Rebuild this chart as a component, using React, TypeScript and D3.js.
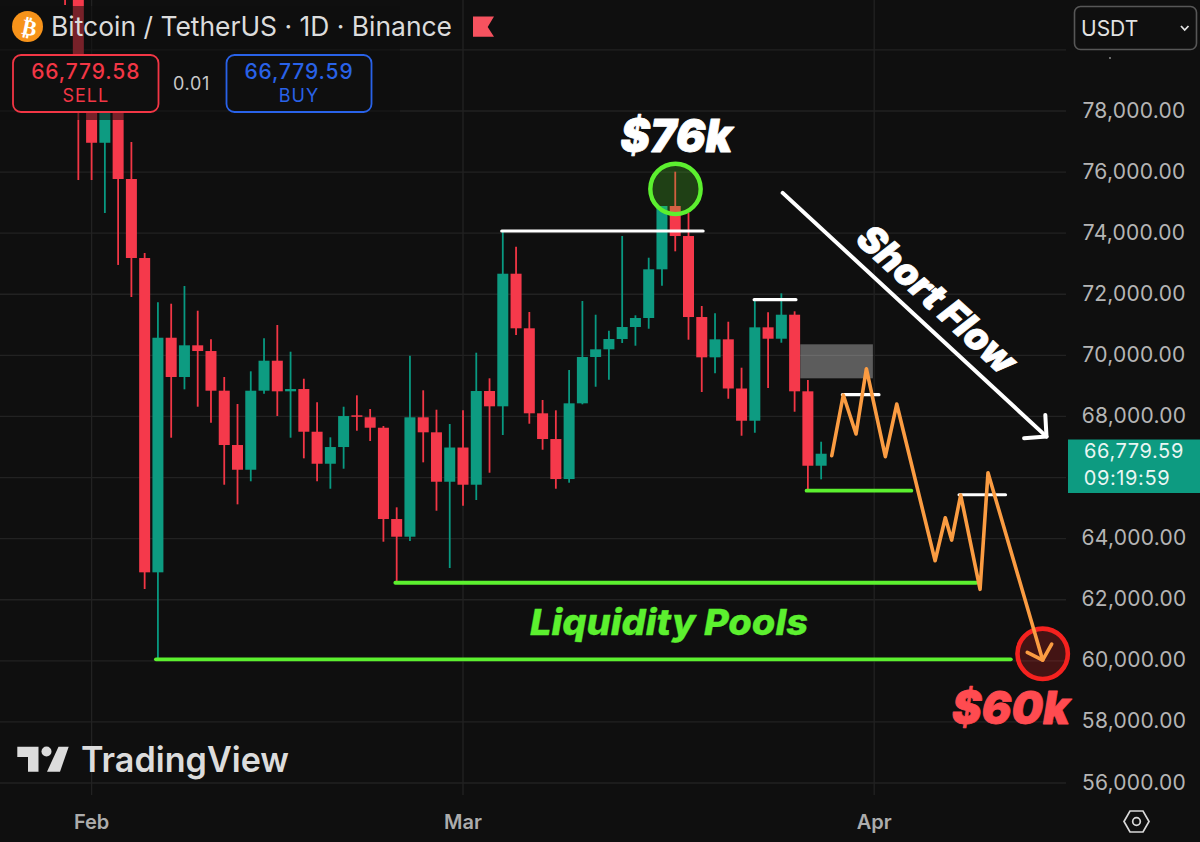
import React, { useEffect, useRef } from "react";
import * as d3 from "d3";

const W = 1200, H = 842;
const PLOT_R = 1066, PLOT_B = 795;

const days = [-2,-1,0,1,2,3,4,5,6,7,8,9,10,11,12,13,14,15,16,17,18,19,20,21,22,23,24,25,26,27,28,29,30,31,32,33,34,35,36,37,38,39,40,41,42,43,44,45,46,47,48,49,50,51,52,53,54,55];
const opens = [84000,83000,78360,76960,78360,75774,73187,62897,70577,69291,70329,70142,68843,67065,66256,68843,69825,68823,68898,67500,66452,66999,68037,67972,67631,64642,64063,67972,67481,65863,66983,65765,68833,68332,72673,70886,68103,67261,65951,68430,69946,70198,70535,70928,71223,72817,74890,73907,71255,69936,70525,68915,67860,70918,70545,71331,68823,66387];
const highs = [85000,84000,78800,79000,78900,76985,73350,71737,71691,72270,71462,70525,69291,68407,69478,70558,70994,70120,69235,68462,67317,68319,68692,68243,67687,65025,69988,68856,68221,67753,68201,70087,69249,74071,73557,71419,68538,68201,69520,71779,71331,70807,73907,71311,73197,74890,76013,74660,71616,71377,71101,69596,71822,71409,72031,71442,69193,67173];
const lows = [81470,75740,75740,74660,72960,71910,62350,60060,67304,68888,68319,67795,65765,65123,65877,68745,68014,67304,66629,65877,65634,66289,67533,67196,63899,62556,63922,66498,64914,63038,65077,65264,66158,67392,70666,67762,66911,65634,65831,68397,68973,69203,70404,70316,70872,72280,73406,70512,68800,69412,68580,67369,67467,68931,70414,68155,65591,65942];
const closes = [82500,78360,76960,78360,75774,73187,62897,70577,69291,70329,70142,68843,67065,66256,68843,69825,68823,68898,67500,66452,66999,68014,68004,67631,64642,64063,67972,67481,65863,66983,65765,68833,68332,72673,70886,68103,67261,65951,68430,69946,70198,70535,70928,71223,72817,74890,73907,71255,69936,70525,68915,67860,70918,70545,71331,68823,66387,66780];

const priceTicks = [56000,58000,60000,62000,64000,66000,68000,70000,72000,74000,76000,78000,80000];
const labelledTicks = [56000,58000,60000,62000,64000,68000,70000,72000,74000,76000,78000];
const monthTicks: [string, number][] = [["Feb",0],["Mar",28],["Apr",59]];
const lastPrice = "66,779.59";
const countdown = "09:19:59";

const forecastDays = [55.8,56.67,57.63,58.41,59.84,60.7,63.59,64.36,64.84,65.52,66.98,67.58,71.7];
const forecastPrices = [66714,68702,67425,69563,66682,68407,63277,64684,63954,65428,62340,66158,60026];
const forecastHeadDays = [70.54,71.7,72.38];
const forecastHeadPrices = [60278,60026,60549];

const whiteLevels: [number,number,number][] = [[30.92,46.1,74071],[49.95,53.1,71822],[56.6,59.36,68712],[65.4,68.9,65437]];
const greenLevels: [number,number,number][] = [[53.9,61.8,65569],[22.9,66.7,62556],[4.85,69.3,60049]];
const zone = { d0: 53.43, d1: 58.9, p0: 70362, p1: 69248 };
const flowDays = [52.1,71.99];
const flowPrices = [75320,67340];
const flowHeadDays = [70.3,71.99,71.9];
const flowHeadPrices = [67290,67340,68050];

const UP = "#089981", DOWN = "#f23645";
const UP_F = "#0d9b81", DOWN_F = "#f5394b";
const SANS = "Inter, 'Noto Sans', sans-serif";
const HEAVY = "Inter, 'Liberation Sans', Arial, sans-serif";

export default function App() {
  const ref = useRef<SVGSVGElement>(null);
  useEffect(() => {
    const svg = d3.select(ref.current!);
    svg.selectAll("*").remove();
    const x = d3.scaleLinear().domain([0, 59]).range([91.6, 874.2]);
    const y = d3.scaleLinear().domain([56000, 78000]).range([783, 111]);

    svg.append("rect").attr("width", W).attr("height", H).attr("fill", "#0f0f0f");

    const grid = svg.append("g").attr("stroke", "#222222").attr("stroke-width", 1.3);
    priceTicks.forEach(p => grid.append("line").attr("x1", 0).attr("x2", PLOT_R).attr("y1", y(p)).attr("y2", y(p)));
    monthTicks.forEach(([, d]) => grid.append("line").attr("x1", x(d)).attr("x2", x(d)).attr("y1", 0).attr("y2", PLOT_B));

    // candles
    const bw = 11;
    const cg = svg.append("g");
    days.forEach((d, i) => {
      const up = closes[i] >= opens[i];
      const cx = x(d);
      cg.append("line").attr("x1", cx).attr("x2", cx).attr("y1", y(highs[i])).attr("y2", y(lows[i]))
        .attr("stroke", up ? UP : DOWN).attr("stroke-width", 1.8);
      const t = y(Math.max(opens[i], closes[i])), b = y(Math.min(opens[i], closes[i]));
      cg.append("rect").attr("x", cx - bw / 2).attr("width", bw).attr("y", t).attr("height", Math.max(1.5, b - t))
        .attr("fill", up ? UP_F : DOWN_F);
    });

    // dim strip beneath the header
    svg.append("rect").attr("x", 0).attr("y", 6).attr("width", 400).attr("height", 114).attr("fill", "#0f0f0f").attr("opacity", 0.55);

    // zone
    svg.append("rect").attr("x", x(zone.d0)).attr("width", x(zone.d1) - x(zone.d0))
      .attr("y", y(zone.p0)).attr("height", y(zone.p1) - y(zone.p0)).attr("fill", "#ffffff").attr("opacity", 0.32);

    // levels
    const lvl = (arr: [number,number,number][], col: string, sw: number) =>
      arr.forEach(([a, b, p]) => svg.append("line").attr("x1", x(a)).attr("x2", x(b)).attr("y1", y(p)).attr("y2", y(p))
        .attr("stroke", col).attr("stroke-width", sw).attr("stroke-linecap", "round"));
    lvl(greenLevels, "#5cf02f", 3.8);
    lvl(whiteLevels, "#ffffff", 3.2);

    // forecast path
    const line = d3.line<[number, number]>().x(p => x(p[0])).y(p => y(p[1]));
    const poly = (ds: number[], ps: number[], col: string, sw: number) =>
      svg.append("path").attr("d", line(ds.map((d, i) => [d, ps[i]] as [number, number]))!)
        .attr("fill", "none").attr("stroke", col).attr("stroke-width", sw)
        .attr("stroke-linecap", "round").attr("stroke-linejoin", "round");

    // circles
    const circ = (d: number, p: number, fill: string, stroke: string, sw: number) =>
      svg.append("circle").attr("cx", x(d)).attr("cy", y(p)).attr("r", 25.2).attr("fill", fill).attr("stroke", stroke).attr("stroke-width", sw);
    circ(44.02, 75450, "rgba(92,240,47,0.22)", "#5cf02f", 4.4);
    circ(71.7, 60230, "rgba(255,40,40,0.22)", "#f5221f", 4.6);

    poly(forecastDays, forecastPrices, "#fb9c42", 3.6);
    poly(forecastHeadDays, forecastHeadPrices, "#fb9c42", 3.6);
    poly(flowDays, flowPrices, "#ffffff", 4);
    poly(flowHeadDays, flowHeadPrices, "#ffffff", 4);

    // hand labels
    const heavy = (s: string, xx: number, yy: number, size: number, weight: number, tl: number, col: string, sw: number, rot = 0) =>
      svg.append("text").text(s).attr("transform", `translate(${xx},${yy}) rotate(${rot})`)
        .attr("font-family", HEAVY).attr("font-weight", weight).attr("font-style", "italic").attr("font-size", size)
        .attr("text-anchor", "middle").attr("textLength", tl).attr("lengthAdjust", "spacingAndGlyphs")
        .attr("fill", col).attr("stroke", col).attr("stroke-width", sw).attr("stroke-linejoin", "round");
    heavy("$76k", 676.5, 152, 46, 900, 112, "#ffffff", 0.8);
    heavy("$60k", 1011, 724, 46, 900, 118, "#ff4b50", 0.8);
    heavy("Liquidity Pools", 669, 635, 36, 800, 278, "#5cf02f", 0.3);
    heavy("Short Flow", 928, 309, 38, 900, 200, "#ffffff", 0.8, 42.5);

    // axis labels
    labelledTicks.forEach(p =>
      svg.append("text").text(d3.format(",.2f")(p)).attr("x", 1134).attr("y", y(p) + 6.5).attr("text-anchor", "middle")
        .attr("font-family", SANS).attr("font-size", 21).attr("fill", "#b5b5b5").attr("letter-spacing", 0.25));
    monthTicks.forEach(([m, d]) =>
      svg.append("text").text(m).attr("x", x(d)).attr("y", 829).attr("text-anchor", "middle")
        .attr("font-family", SANS).attr("font-weight", 600).attr("font-size", 20).attr("fill", "#acacac"));
    svg.append("circle").attr("cx", 1110).attr("cy", 58).attr("r", 0.9).attr("fill", "#999");

    // last price tag
    svg.append("rect").attr("x", 1068).attr("y", 439.5).attr("width", 132).attr("height", 53.5).attr("fill", UP_F);
    svg.append("text").text(lastPrice).attr("x", 1134).attr("y", 458).attr("text-anchor", "middle").attr("font-family", SANS).attr("font-size", 20).attr("letter-spacing", 0.6).attr("fill", "#e9f6f3");
    svg.append("text").text(countdown).attr("x", 1127).attr("y", 484.5).attr("text-anchor", "middle").attr("font-family", SANS).attr("font-size", 20).attr("letter-spacing", 0.6).attr("fill", "#e9f6f3");

    // settings icon
    svg.append("path").attr("d", "M1124,821.5 L1130,811 L1143,811 L1149,821.5 L1143,832 L1130,832 Z").attr("fill", "none").attr("stroke", "#d8d8d8").attr("stroke-width", 1.7);
    svg.append("circle").attr("cx", 1136.5).attr("cy", 821.5).attr("r", 3.8).attr("fill", "none").attr("stroke", "#d8d8d8").attr("stroke-width", 1.7);

    // USDT
    svg.append("rect").attr("x", 1074.5).attr("y", 6.5).attr("width", 122).attr("height", 43).attr("rx", 6).attr("fill", "#0f0f0f").attr("stroke", "#575757").attr("stroke-width", 1.6);
    svg.append("text").text("USDT").attr("x", 1081).attr("y", 36).attr("font-family", SANS).attr("font-size", 21).attr("fill", "#e2e2e2");
    svg.append("path").attr("d", "M1181,26 L1184.7,30 L1188.5,26").attr("fill", "none").attr("stroke", "#e2e2e2").attr("stroke-width", 1.8);

    // header
    svg.append("circle").attr("cx", 27.5).attr("cy", 26.5).attr("r", 15.5).attr("fill", "#f7931a");
    svg.append("text").text("₿").attr("transform", "translate(28,35) rotate(12)").attr("text-anchor", "middle")
      .attr("font-family", "'DejaVu Sans'").attr("font-weight", 700).attr("font-size", 22).attr("fill", "#ffffff");
    svg.append("text").text("Bitcoin / TetherUS · 1D · Binance").attr("x", 51).attr("y", 36)
      .attr("font-family", SANS).attr("font-size", 26.5).attr("fill", "#dcdcdc").attr("textLength", 401).attr("lengthAdjust", "spacingAndGlyphs");
    svg.append("path").attr("d", "M473,16.5 L494,16.5 L487.7,27 L494,36.8 L473,36.8 Z").attr("fill", "#f6525f");

    // sell & buy
    const box = (bx: number, bw2: number, col: string, price: string, label: string) => {
      svg.append("rect").attr("x", bx).attr("y", 55).attr("width", bw2).attr("height", 57).attr("rx", 8).attr("fill", "#0f0f0f").attr("stroke", col).attr("stroke-width", 1.8);
      svg.append("text").text(price).attr("x", bx + bw2 / 2).attr("y", 79).attr("text-anchor", "middle").attr("font-family", SANS).attr("font-weight", 500).attr("font-size", 21).attr("letter-spacing", 0.9).attr("fill", col);
      svg.append("text").text(label).attr("x", bx + bw2 / 2).attr("y", 102).attr("text-anchor", "middle").attr("font-family", SANS).attr("font-size", 18).attr("letter-spacing", 1).attr("fill", col);
    };
    box(13, 145.5, "#f23645", "66,779.58", "SELL");
    box(226.5, 145, "#2962e8", "66,779.59", "BUY");
    svg.append("text").text("0.01").attr("x", 191.5).attr("y", 90).attr("text-anchor", "middle").attr("font-family", SANS).attr("font-size", 18).attr("letter-spacing", 0.7).attr("fill", "#c8c8c8");

    // TradingView logo
    const tv = svg.append("g").attr("fill", "#dcdcdc");
    tv.append("path").attr("d", "M17.3,746.7 L38.5,746.7 L38.5,771.7 L28,771.7 L28,757 L17.3,757 Z");
    tv.append("circle").attr("cx", 46.5).attr("cy", 751.5).attr("r", 5);
    tv.append("path").attr("d", "M58.5,746.7 L68.7,746.7 L60,771.7 L47,771.7 Z");
    tv.append("text").text("TradingView").attr("x", 81).attr("y", 772).attr("font-family", SANS).attr("font-weight", 600).attr("font-size", 35).attr("textLength", 208).attr("lengthAdjust", "spacingAndGlyphs");
  }, []);
  return (
    <svg ref={ref} width={W} height={H} viewBox={`0 0 ${W} ${H}`}
      style={{ position: "fixed", left: 0, top: 0, display: "block" }} />
  );
}
